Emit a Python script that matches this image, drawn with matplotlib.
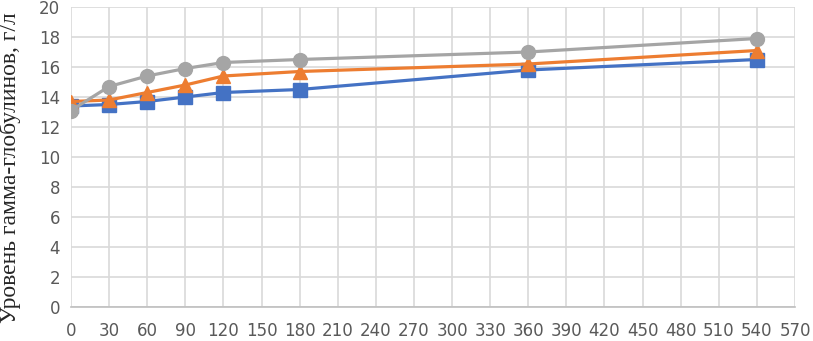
import matplotlib.pyplot as plt

minutes = [0, 30, 60, 90, 120, 180, 360, 540]
series_blue = [13.4, 13.5, 13.7, 14.0, 14.3, 14.5, 15.8, 16.5]
series_orange = [13.7, 13.8, 14.3, 14.8, 15.4, 15.7, 16.2, 17.1]
series_gray = [13.1, 14.7, 15.4, 15.9, 16.3, 16.5, 17.0, 17.9]
xticks = list(range(0, 571, 30))
yticks = list(range(0, 21, 2))

fig = plt.figure(figsize=(8.13, 3.41), dpi=100)
ax = fig.add_axes([71/813, 34/341, 724/813, 300/341])

ax.plot(minutes, series_blue, color="#4472C4", lw=2.3, marker="s", ms=9.5, zorder=3)
ax.plot(minutes, series_orange, color="#ED7D31", lw=2.3, marker="^", ms=10, zorder=4)
ax.plot(minutes, series_gray, color="#A5A5A5", lw=2.3, marker="o", ms=10, zorder=5)

ax.set_xlim(0, 570)
ax.set_ylim(0, 20)
ax.set_xticks(xticks)
ax.set_yticks(yticks)
ax.grid(True, color="#D9D9D9", lw=1.2)
ax.set_axisbelow(True)
for s in ["top", "right", "left"]:
    ax.spines[s].set_visible(False)
ax.spines["bottom"].set_color("#BFBFBF")
ax.spines["bottom"].set_linewidth(1.2)
ax.tick_params(length=0, labelsize=12, labelcolor="#595959", pad=8)
ax.tick_params(axis="x", pad=11)
ax.set_ylabel("Уровень гамма-глобулинов, г/л", family="Liberation Serif",
              fontsize=17, color="#262626")
ax.yaxis.set_label_coords(-50/724, 0.465)

fig.savefig("out.png", dpi=100)
